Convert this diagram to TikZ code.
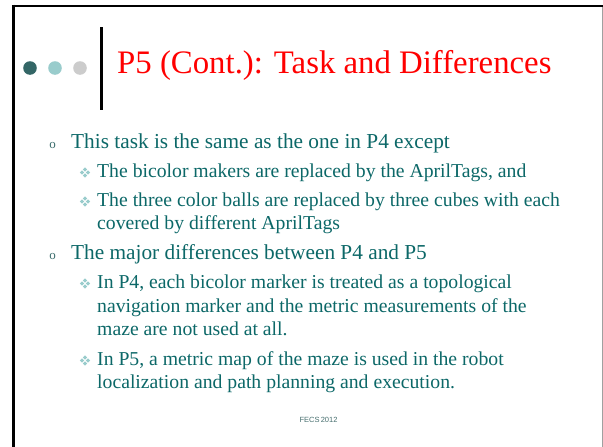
\documentclass[tikz,border=0pt]{standalone}
\usepackage{fontspec}
\setmainfont{Liberation Serif}
\setsansfont{Liberation Sans}
\definecolor{bodyteal}{RGB}{12,104,104}
\definecolor{dotdark}{RGB}{51,102,102}
\definecolor{dotlight}{RGB}{153,204,204}
\definecolor{dotgray}{RGB}{204,204,204}
\definecolor{bulgray}{RGB}{60,110,110}
\definecolor{footcol}{RGB}{70,110,110}
\definecolor{framegray}{RGB}{160,160,160}
\tikzset{
  lvlone/.style={anchor=base west, inner sep=0pt, text=bodyteal, font=\fontsize{21.3}{24}\selectfont},
  lvltwo/.style={anchor=base west, inner sep=0pt, text=bodyteal, font=\fontsize{19.7}{23}\selectfont},
  obullet/.style={anchor=base, inner sep=0pt, text=bulgray, font=\fontsize{13}{13}\selectfont},
  dbullet/.pic={
    \foreach \dx/\dy in {-3/0,3/0,0/-3,0/3}{
      \fill[dotlight] (\dx-2.2,\dy) -- (\dx,\dy-2.2) -- (\dx+2.2,\dy) -- (\dx,\dy+2.2) -- cycle;
    }
  }
}
\begin{document}
\begin{tikzpicture}[x=1pt,y=-1pt]
\useasboundingbox (0,0) rectangle (603,447);
\fill[white] (0,0) rectangle (603,447);
% frame
\draw[framegray, line width=1pt] (602.2,5) -- (602.2,447);
\draw[black, line width=2.5pt] (11.8,5.8) -- (602.5,5.8);
\draw[black, line width=2.8pt] (13.3,4.6) -- (13.3,447);
% header
\fill[dotdark] (30,68) circle (6.8);
\fill[dotlight] (55,68) circle (6.8);
\fill[dotgray] (80,68) circle (6.8);
\draw[black, line width=3pt] (101,27) -- (101,110);
\node[anchor=base west, inner sep=0pt, text=red, font=\fontsize{32.8}{36}\selectfont] (title) at (117,73) {P5 (Cont.): Task and Differences};
% body
\node[obullet] (b1) at (52.5,148) {o};
\node[lvlone] (l1) at (71,148) {This task is the same as the one in P4 except};
\pic at (85,172.5) {dbullet};
\node[lvltwo] (l2) at (97,177) {The bicolor makers are replaced by the AprilTags, and};
\pic at (85,201.5) {dbullet};
\node[lvltwo] (l3) at (97,206) {The three color balls are replaced by three cubes with each};
\node[lvltwo] (l4) at (97,229) {covered by different AprilTags};
\node[obullet] (b2) at (52.5,259) {o};
\node[lvlone] (l5) at (71,259) {The major differences between P4 and P5};
\pic at (85,283.5) {dbullet};
\node[lvltwo] (l6) at (97,288) {In P4, each bicolor marker is treated as a topological};
\node[lvltwo] (l7) at (97,312) {navigation marker and the metric measurements of the};
\node[lvltwo] (l8) at (97,335) {maze are not used at all.};
\pic at (85,360.5) {dbullet};
\node[lvltwo] (l9) at (97,365) {In P5, a metric map of the maze is used in the robot};
\node[lvltwo] (l10) at (97,388) {localization and path planning and execution.};
\node[anchor=base, inner sep=0pt, text=footcol, font=\sffamily\fontsize{7.5}{8}\selectfont] (foot) at (318.5,422) {FECS\,2012};
\end{tikzpicture}
\end{document}
